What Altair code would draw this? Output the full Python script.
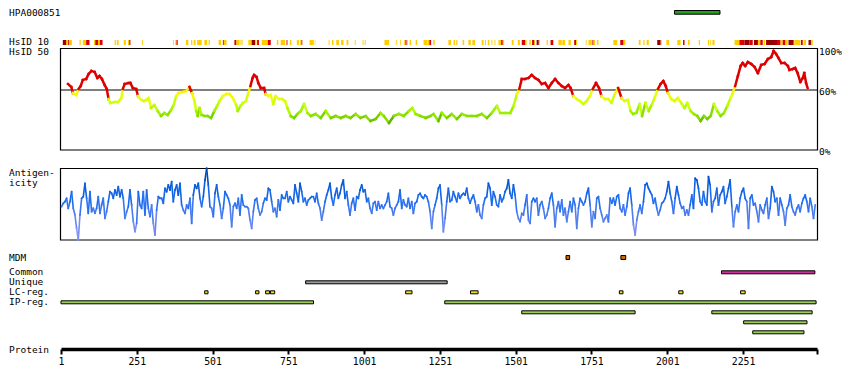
import altair as alt
import pandas as pd

FONT = "DejaVu Sans Mono"
PROTEIN_LEN = 2495
PROTEIN_TICKS = [1, 251, 501, 751, 1001, 1251, 1501, 1751, 2001, 2251]
ANTIGEN_REGION = [(2025, 2175)]

# HsID 10 strip (start, end residue) per identity class
HSID10_LOW = [(18,24),(27,37),(62,66),(73,84),(110,114),(123,129),(178,182),(185,191),(208,215),(222,226),(268,271),(370,373),(378,382),(413,421),(430,434),(439,445),(450,465),(474,483),(488,492),(521,529),(538,547),(579,590),(593,596),(597,600),(619,630),(641,646),(663,682),(713,718),(726,740),(756,761),(779,786),(790,793),(821,835),(838,840),(884,887),(895,900),(909,918),(925,933),(943,949),(970,973),(996,999),(1003,1006),(1068,1083),(1107,1110),(1120,1123),(1132,1135),(1142,1145),(1151,1156),(1171,1176),(1197,1209),(1210,1215),(1229,1234),(1279,1288),(1296,1301),(1305,1309),(1326,1331),(1345,1353),(1358,1367),(1389,1395),(1400,1403),(1409,1414),(1421,1424),(1431,1434),(1444,1453),(1458,1463),(1488,1494),(1508,1515),(1532,1537),(1546,1551),(1562,1565),(1577,1581),(1603,1607),(1642,1653),(1655,1664),(1675,1683),(1700,1704),(1732,1735),(1741,1752),(1757,1763),(1769,1774),(1823,1836),(1856,1863),(1907,1913),(1922,1926),(1933,1940),(1979,1983),(1998,2007),(2034,2045),(2069,2075),(2105,2109),(2135,2139),(2143,2146),(2150,2157),(2223,2239),(2300,2308),(2319,2324),(2374,2382),(2390,2399),(2420,2440),(2451,2459),(2475,2481)]
HSID10_MID = [(24,27),(84,95),(114,123),(129,138),(226,230),(382,386),(535,538),(573,579),(648,654),(683,693),(745,748),(794,797),(1137,1141),(1216,1222),(1453,1458),(1521,1532),(1555,1562),(1616,1625),(1694,1700),(1754,1757),(1846,1856),(2053,2058),(2239,2256),(2272,2283),(2308,2316),(2366,2374),(2382,2390),(2442,2448)]
HSID10_HIGH = [(7,18),(630,641),(1570,1577),(1968,1979),(2256,2272),(2287,2300),(2327,2366),(2401,2418),(2467,2475)]

# HsID 50 identity (%) along the protein
HSID50_RES = [24,35,40,51,59,66,73,84,92,101,112,121,128,136,145,152,158,164,178,189,200,205,211,224,230,238,249,255,263,274,282,290,298,309,320,331,342,353,364,373,381,389,403,414,425,433,441,447,452,458,465,474,485,496,507,516,524,535,546,557,568,579,584,593,601,
              611,619,626,633,638,646,652,660,671,676,685,693,701,709,720,731,740,748,759,770,781,792,803,814,825,841,858,874,891,907,924,940,956,973,989,1006,1022,1039,1055,1066,1083,1099,1116,1132,1149,1160,1171,1187,1204,1220,
              1230,1246,1257,1274,1290,1307,1323,1340,1356,1373,1389,1406,1422,1439,1450,1466,1483,1494,1505,1513,1521,1532,1543,1554,1565,1576,1587,1598,1609,1620,1631,1642,1653,1664,1675,1682,1691,1702,1713,1724,1735,1746,1755,1766,1776,1784,1795,1806,1817,1828,1839,
              1850,1860,1871,1880,1888,1899,1910,1918,1929,1940,1951,1959,1970,1979,1988,1996,2003,2014,2025,2036,2047,2058,2067,2078,2089,2100,2111,2122,2133,2144,2155,2166,2177,2188,2199,2210,2217,2225,2234,2243,2250,2258,2267,2278,2289,2300,2311,2322,2333,2344,2352,2360,2368,2377,2388,2399,2404,2415,2423,2431,2440,2448,2453,2459,2464]
HSID50_PCT = [66,63,57,55,61,64,70,71,76,79,78,72,74,71,65,61,51,47,48,48,52,61,66,67,67,62,61,54,51,49,50,52,42,45,39,34,37,35,40,45,54,57,58,59,63,57,49,39,34,42,35,34,34,32,39,44,49,54,56,56,52,45,39,44,47,
              49,57,64,72,75,73,67,62,62,56,54,55,46,54,51,51,49,42,34,32,36,39,46,37,34,36,32,39,32,34,32,34,32,36,32,34,29,31,37,34,27,34,36,34,39,42,36,34,32,34,
              36,29,37,32,36,31,36,34,34,34,36,32,37,44,37,37,37,44,56,61,71,71,72,75,72,70,66,67,62,67,71,67,64,62,65,62,54,51,49,46,49,54,61,67,62,54,51,51,47,56,62,
              52,49,50,39,36,37,46,34,47,39,46,52,61,66,69,64,57,51,49,52,47,42,47,39,36,34,29,34,31,34,46,39,34,37,44,52,57,64,74,84,87,84,88,86,83,77,85,86,91,93,99,96,92,87,87,84,80,81,82,77,68,72,77,67,62]

# Antigenicity profile, sampled every 5.5 residues from residue 3 (depth below the top of the panel)
ANTIGEN_FIRST_RES = 3
ANTIGEN_STEP = 5.5
ANTIGEN_DEPTH = [125,115,110,100,130,110,80,130,150,190,225,150,100,95,55,100,145,80,140,130,
    145,130,95,145,120,100,160,140,110,80,85,100,75,90,65,95,75,100,160,140,
    125,75,120,170,200,175,80,120,130,80,150,75,130,155,120,175,210,135,95,100,
    100,115,70,80,60,75,50,110,75,60,90,55,120,135,145,120,130,100,175,90,
    60,70,55,100,125,95,45,10,60,125,130,155,85,60,95,120,160,130,80,90,
    100,120,185,125,115,130,100,150,90,120,125,125,130,165,190,140,105,100,130,150,
    140,115,100,105,70,75,110,140,130,155,105,135,90,100,100,80,110,95,105,115,
    60,85,110,55,80,110,100,120,105,100,95,95,110,85,115,130,165,140,110,90,
    75,55,100,120,90,70,100,85,60,45,100,80,120,150,115,100,135,95,100,75,
    60,80,75,110,100,130,145,115,110,135,110,130,120,130,120,110,85,125,130,150,
    130,120,110,75,130,105,120,125,100,130,110,145,115,110,90,85,95,100,90,95,
    110,140,190,140,120,
    100,70,60,120,200,160,110,70,110,105,80,95,110,85,100,90,85,90,70,100,
    115,100,90,110,140,120,150,160,120,100,95,55,70,120,80,95,120,125,90,110,
    100,80,70,45,85,100,60,90,140,160,170,145,150,120,90,165,175,110,100,110,
    100,150,120,110,130,160,150,130,100,85,120,185,130,110,140,105,150,130,170,140,
    110,140,100,120,190,130,100,110,120,110,85,70,120,185,140,160,100,95,130,150,
    170,160,150,170,100,115,100,120,95,90,130,140,120,150,125,85,70,120,180,210,
    165,140,120,145,110,60,55,70,80,90,115,100,130,150,135,115,110,100,80,50,
    85,110,145,100,65,90,115,130,125,150,135,150,120,90,130,40,45,70,110,120,
    80,110,120,35,60,140,110,100,70,120,90,80,65,115,95,70,45,125,185,140,
    120,140,100,80,70,100,110,190,100,90,120,115,140,170,120,135,145,120,100,160,
    130,65,80,110,100,150,100,120,140,180,130,120,90,125,140,150,130,120,140,115,
    100,90,110,140,100,125,160,120]

MDM = [(1667,1679),(1848,1864)]
COMMON = [(2180,2488)]
UNIQUE = [(808,1275)]
LC_REG = [(475,486),(643,654),(676,689),(692,706),(1138,1159),(1352,1377),(1843,1855),(2039,2053),(2243,2258)]
IP_REG = [[(1,834),(1267,2492)], [(1521,1895),(2148,2479)], [(2253,2462)], [(2283,2452)]]

W, H = 756, 341

xs = alt.Scale(domain=[1, PROTEIN_LEN], nice=False, zero=False)
xaxis = alt.Axis(values=PROTEIN_TICKS + [PROTEIN_LEN],
                 labelExpr="datum.value > 2400 ? '' : datum.label",
                 format="d", title=None, grid=False, domainWidth=3.5, domainColor="black",
                 tickColor="black", tickWidth=2, tickSize=5, labelPadding=2,
                 labelFont=FONT, labelFontSize=9.8, labelColor="black",
                 labelFlush=False, labelOverlap=False, labelBound=False)


def X(f):
    return alt.X(f"{f}:Q", scale=xs, axis=xaxis)


def spans(pairs, top, h, fill, stroke=True):
    df = pd.DataFrame(pairs, columns=["start", "end"])
    kw = dict(fill=fill)
    if stroke:
        kw.update(stroke="black", strokeWidth=1)
        y0, y1 = top + 0.5, top + h - 0.5
    else:
        y0, y1 = top, top + h
    return alt.Chart(df).mark_rect(**kw).encode(
        x=X("start"), x2=alt.X2("end"), y=alt.value(y0), y2=alt.value(y1))


def label(t, x, y, size=9.8, align="left"):
    return alt.Chart(pd.DataFrame({"t": [t]})).mark_text(
        align=align, baseline="alphabetic", font=FONT, fontSize=size, color="black"
    ).encode(x=alt.value(x), y=alt.value(y), text="t:N")


def frame(y0, y1):
    return alt.Chart(pd.DataFrame({"a": [0]})).mark_rect(
        fill="white", fillOpacity=0, stroke="black", strokeWidth=1.2
    ).encode(x=alt.value(-0.5), x2=alt.value(W + 0.5), y=alt.value(y0), y2=alt.value(y1))


hs_y = alt.Scale(domain=[0, 100], range=[142, 42], nice=False, zero=False)
ag_y = alt.Scale(domain=[0, 225], range=[157, 232], nice=False, zero=False)

hs = pd.DataFrame({"x1": HSID50_RES[:-1], "x2": HSID50_RES[1:],
                   "v1": HSID50_PCT[:-1], "v2": HSID50_PCT[1:]})
ag_res = [ANTIGEN_FIRST_RES + ANTIGEN_STEP * i for i in range(len(ANTIGEN_DEPTH))]
ag = pd.DataFrame({"x1": ag_res[:-1], "x2": ag_res[1:],
                   "v1": ANTIGEN_DEPTH[:-1], "v2": ANTIGEN_DEPTH[1:]})
ag["vm"] = (ag["v1"] + ag["v2"]) / 2

hs_line = alt.Chart(hs).mark_rule(strokeWidth=2.5, strokeCap="square").encode(
    x=X("x1"), x2=alt.X2("x2"),
    y=alt.Y("v1:Q", scale=hs_y, axis=None), y2=alt.Y2("v2"),
    color=alt.Color("v1:Q", legend=None, scale=alt.Scale(
        domain=[25, 31, 37, 46, 54, 59.99, 60, 100],
        range=["#55aa00", "#77cc00", "#99f000", "#c8ff10", "#f0ff10", "#ffee00", "#dd0000", "#dd0000"])))

ag_line = alt.Chart(ag).mark_rule(strokeWidth=1.6, strokeCap="square").encode(
    x=X("x1"), x2=alt.X2("x2"),
    y=alt.Y("v1:Q", scale=ag_y, axis=None), y2=alt.Y2("v2"),
    color=alt.Color("vm:Q", legend=None, scale=alt.Scale(
        domain=[10, 60, 110, 160, 225],
        range=["#003f9e", "#0058d8", "#1f6ff2", "#5580ee", "#a0a0ff"])))

line60 = alt.Chart(pd.DataFrame({"p": [60]})).mark_rule(color="black", strokeWidth=1.2).encode(
    x=alt.value(0), x2=alt.value(W), y=alt.Y("p:Q", scale=hs_y, axis=None))

pct_labels = alt.Chart(pd.DataFrame({"p": [100, 60, 0], "t": ["100%", "60%", "0%"]})).mark_text(
    align="left", baseline="alphabetic", font=FONT, fontSize=9.5, color="black", dy=4.6
).encode(x=alt.value(758), y=alt.Y("p:Q", scale=hs_y, axis=None), text="t:N")

layers = [
    spans(ANTIGEN_REGION, 2, 4.7, "#22a01e"),
    spans(HSID10_LOW, 32, 5, "#ffcc00", stroke=False),
    spans(HSID10_MID, 32, 5, "#dd0000", stroke=False),
    spans(HSID10_HIGH, 32, 5, "#990000", stroke=False),
    frame(40.5, 142),
    line60,
    hs_line,
    pct_labels,
    frame(160.5, 232),
    ag_line,
    spans(MDM, 247, 5, "#cc6600"),
    spans(COMMON, 262.3, 4, "#cc3399"),
    spans(UNIQUE, 272.3, 4, "#999999"),
    spans(LC_REG, 282.3, 4, "#eedd22"),
]
for i, lane in enumerate(IP_REG):
    layers.append(spans(lane, 292.3 + 10 * i, 4, "#9acd5a"))

for t, y in [("HPA000851", 8), ("HsID 10", 37.3), ("HsID 50", 47.3), ("Antigen-", 168),
             ("icity", 177.7), ("MDM", 253), ("Common", 267.2), ("Unique", 276.6),
             ("LC-reg.", 287), ("IP-reg.", 297), ("Protein", 345.3)]:
    layers.append(label(t, -52, y, size=9.5))

chart = alt.layer(*layers).properties(
    width=W, height=H,
    padding={"left": 53, "top": 0, "right": 25, "bottom": 25},
    autosize=alt.AutoSizeParams(type="none"),
).resolve_scale(y="independent", color="independent").configure_view(stroke=None)

chart.save("out.html", embed_options={"renderer": "svg", "actions": False})
